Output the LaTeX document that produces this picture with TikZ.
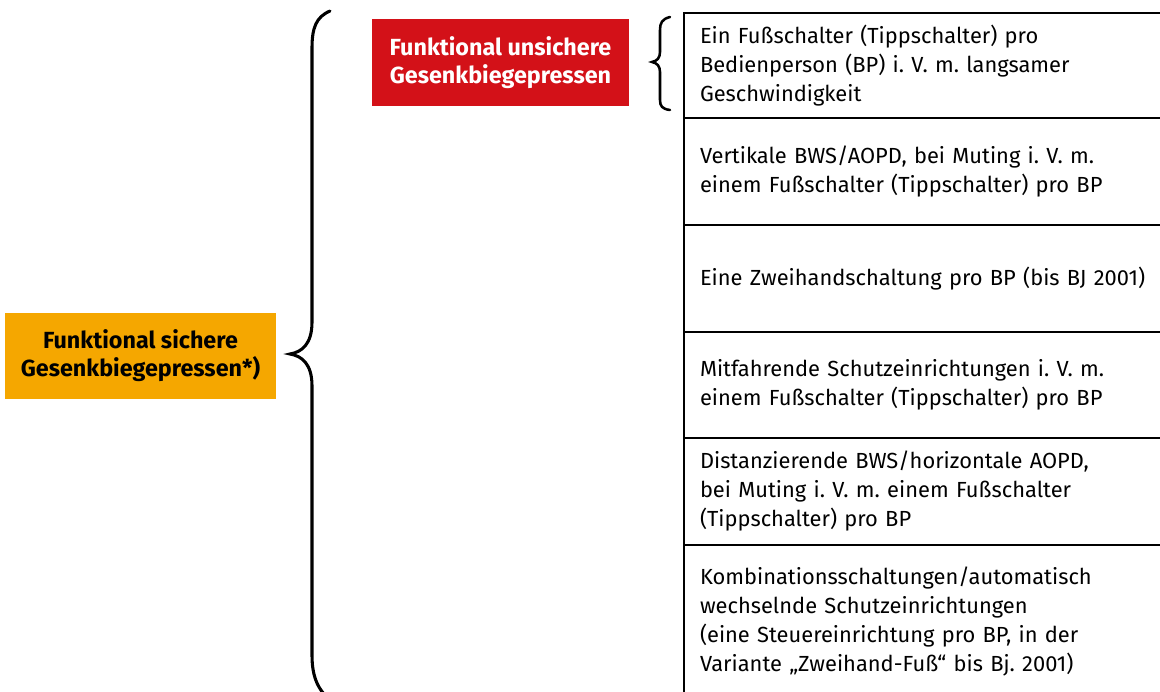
\documentclass[tikz,border=0pt]{standalone}
\usepackage{fontspec}
\setmainfont{Fira Sans}
\usetikzlibrary{positioning}
\definecolor{sicher}{HTML}{F5A700}
\definecolor{unsicher}{HTML}{D31118}
\frenchspacing

\begin{document}
\begin{tikzpicture}[x=0.75pt,y=-0.75pt,line width=1.5pt,
  rowbox/.style={draw,anchor=north west,outer sep=0pt,align=left,
    text width=336pt,inner xsep=12pt,inner ysep=0pt,
    font=\fontsize{16.4}{21.75}\selectfont},
  klasse/.style={align=center,inner sep=0pt,
    font=\bfseries\fontsize{17.5}{21}\selectfont},
  brace/.style={line width=2.3pt,line cap=round}]
  \useasboundingbox (0,0) rectangle (1160,692);
  \clip (0,0) rectangle (1160,692);

  % Klassen
  \node[klasse,fill=sicher,minimum width=203pt,minimum height=64.5pt]
    (sicher) at (140.5,356) {Funktional sichere\\Gesenkbiegepressen*)};
  \node[klasse,fill=unsicher,text=white,minimum width=193pt,minimum height=65pt]
    (unsicher) at (500.5,62.5) {Funktional unsichere\\Gesenkbiegepressen};

  % Schutzeinrichtungen
  \node[rowbox,minimum height=78.75pt] (r1) at (684,13)
    {Ein Fußschalter (Tippschalter) pro\\Bedienperson (BP) i. V. m. langsamer\\Geschwindigkeit};
  \node[rowbox,minimum height=80.25pt] (r2) at (r1.south west)
    {Vertikale BWS/AOPD, bei Muting i. V. m.\\einem Fußschalter (Tippschalter) pro BP};
  \node[rowbox,minimum height=80.25pt] (r3) at (r2.south west)
    {Eine Zweihandschaltung pro BP (bis BJ 2001)};
  \node[rowbox,minimum height=79.5pt] (r4) at (r3.south west)
    {Mitfahrende Schutzeinrichtungen i. V. m.\\einem Fußschalter (Tippschalter) pro BP};
  \node[rowbox,minimum height=80.25pt] (r5) at (r4.south west)
    {Distanzierende BWS/horizontale AOPD,\\bei Muting i. V. m. einem Fußschalter\\(Tippschalter) pro BP};
  \node[rowbox,minimum height=114pt] (r6) at (r5.south west)
    {Kombinationsschaltungen/automatisch\\wechselnde Schutzeinrichtungen\\(eine Steuereinrichtung pro BP, in der\\Variante „Zweihand-Fuß“ bis Bj. 2001)};

  % Klammern
  \draw[brace] (330,11) .. controls (316,17) and (312,28) .. (312,48)
    -- (312,322) .. controls (312,344) and (302,352) .. (290,354)
    .. controls (302,356) and (312,364) .. (312,386)
    -- (312,655) .. controls (312,675) and (317,686) .. (324,694);
  \draw[brace,line width=1.9pt] (670,17) .. controls (662,19) and (660,23) .. (660,30)
    -- (660,52) .. controls (660,58) and (657,61) .. (652,62)
    .. controls (657,63) and (660,66) .. (660,72)
    -- (660,100) .. controls (660,106) and (662,109) .. (670,110);
\end{tikzpicture}
\end{document}
